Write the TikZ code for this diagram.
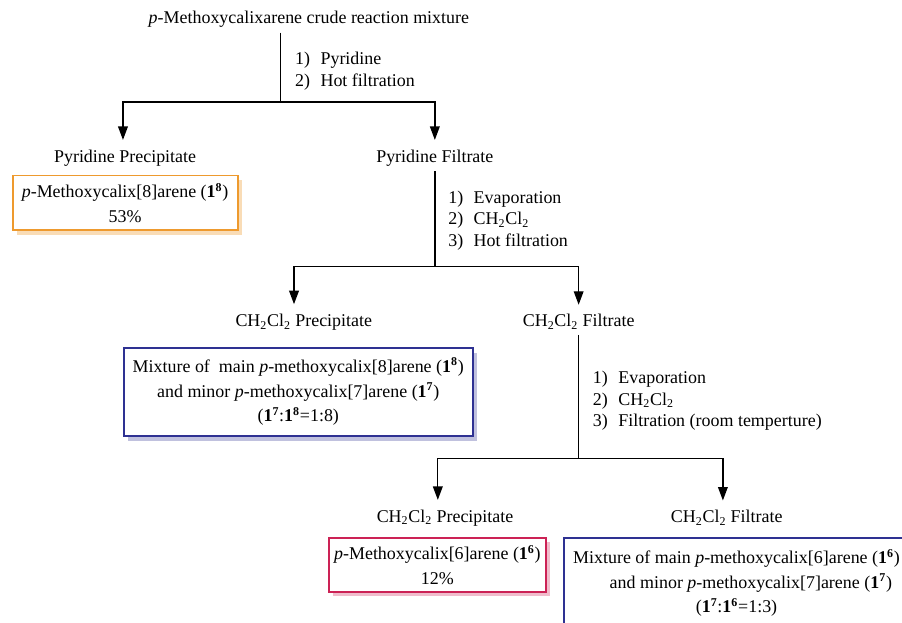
\documentclass[tikz,border=0pt]{standalone}
\usepackage{fontspec}
\setmainfont{Liberation Serif}
\usetikzlibrary{positioning,arrows.meta,calc,shadows}

\definecolor{boxorange}{HTML}{EE9A2E}
\definecolor{boxnavy}{HTML}{2E3192}
\definecolor{boxcrimson}{HTML}{CC2255}

\newcommand{\dcm}{CH\textsubscript{2}Cl\textsubscript{2}}
\newcommand{\cmpd}[1]{\textbf{1\textsuperscript{#1}}}
\newcommand{\stp}[1]{\makebox[17pt][l]{#1)}}

\begin{document}
\begin{tikzpicture}[on grid,font=\fontsize{12}{14.5}\selectfont]

  \tikzset{
    flow/.style={line width=0.9pt},
    arr/.style={flow,-{Triangle[length=9pt,width=6.5pt]},shorten >=3pt},
    steps/.style={align=left,inner sep=0pt},
    result/.style={draw,fill=white,line width=1.3pt,align=center,inner sep=2pt,
      font=\fontsize{12}{16.5}\selectfont},
  }

  \useasboundingbox (0,0) rectangle (21.2,-14.62);

   \node (crude) at (7.26,-0.45) {\textit{p}-Methoxycalixarene crude reaction mixture};
   \coordinate[below left=1.95cm and 0.66cm of crude] (split1);
   \node[steps] (stepsA) [above right=0.72cm and 0.33cm of split1,anchor=west]
     {\stp{1}Pyridine\\ \stp{2}Hot filtration};

   \node (pyrpre) [below left=3.26cm and 4.32cm of crude] {Pyridine Precipitate};
   \node (pyrfil) [below right=3.26cm and 2.96cm of crude] {Pyridine Filtrate};
   \node[result,draw=boxorange,minimum width=5.29cm,minimum height=1.29cm,
     drop shadow={shadow xshift=0.1cm,shadow yshift=-0.1cm,fill=boxorange!35,opacity=1}]
     (box8) [below=1.06cm of pyrpre] {\textit{p}-Methoxycalix[8]arene (\cmpd{8})\\ 53\%};

   \draw[flow] (crude.south -| split1) -- (split1);
   \draw[arr] (split1) -| ([xshift=-0.05cm]pyrpre.north);
   \draw[arr] (split1) -| (pyrfil.north);

   % second filtration
   \coordinate[below=2.56cm of pyrfil] (split2);
   \node[steps] (stepsB) [above right=1.09cm and 0.31cm of split2,anchor=west]
     {\stp{1}Evaporation\\ \stp{2}\dcm\\ \stp{3}Hot filtration};

   \node (dcmpre1) [below left=1.30cm and 3.08cm of split2,anchor=center] {\dcm{} Precipitate};
   \node (dcmfil1) [below right=1.30cm and 3.38cm of split2,anchor=center] {\dcm{} Filtrate};
   \node[result,draw=boxnavy,minimum width=8.2cm,minimum height=2.07cm,
     drop shadow={shadow xshift=0.1cm,shadow yshift=-0.12cm,fill=boxnavy!30,opacity=1}]
     (box78) [below left=1.64cm and 0.13cm of dcmpre1]
     {Mixture of~ main \textit{p}-methoxycalix[8]arene (\cmpd{8})\\
      and minor \textit{p}-methoxycalix[7]arene (\cmpd{7})\\
      (\cmpd{7}:\cmpd{8}=1:8)};

   \draw[flow] (pyrfil.south) -- (split2);
   \draw[arr] (split2) -| ([xshift=-0.23cm]dcmpre1.north);
   \draw[arr] (split2) -| (dcmfil1.north);

   % third filtration
   \coordinate[below=3.20cm of dcmfil1] (split3);
   \node[steps] (stepsC) [above right=1.35cm and 0.33cm of split3,anchor=west]
     {\stp{1}Evaporation\\ \stp{2}\dcm\\ \stp{3}Filtration (room temperture)};

   \node (dcmpre2) [below left=1.40cm and 3.14cm of split3,anchor=center] {\dcm{} Precipitate};
   \node (dcmfil2) [below right=1.40cm and 3.48cm of split3,anchor=center] {\dcm{} Filtrate};
   \node[result,draw=boxcrimson,minimum width=5.1cm,minimum height=1.27cm,
     drop shadow={shadow xshift=0.1cm,shadow yshift=-0.1cm,fill=boxcrimson!30,opacity=1}]
     (box6) [below left=1.11cm and 0.18cm of dcmpre2]
     {\textit{p}-Methoxycalix[6]arene (\cmpd{6})\\ 12\%};
   \node[result,draw=boxnavy,minimum width=8.1cm,minimum height=2.1cm]
     (box67) [below right=1.53cm and 0.23cm of dcmfil2]
     {Mixture of main \textit{p}-methoxycalix[6]arene (\cmpd{6})\\
      \hspace*{1.6em}and minor \textit{p}-methoxycalix[7]arene (\cmpd{7})\\
      (\cmpd{7}:\cmpd{6}=1:3)};

   \draw[flow] (dcmfil1.south) -- (split3);
   \draw[arr] (split3) -| ([xshift=-0.17cm]dcmpre2.north);
   \draw[arr] (split3) -| ([xshift=-0.09cm]dcmfil2.north);

\end{tikzpicture}
\end{document}
